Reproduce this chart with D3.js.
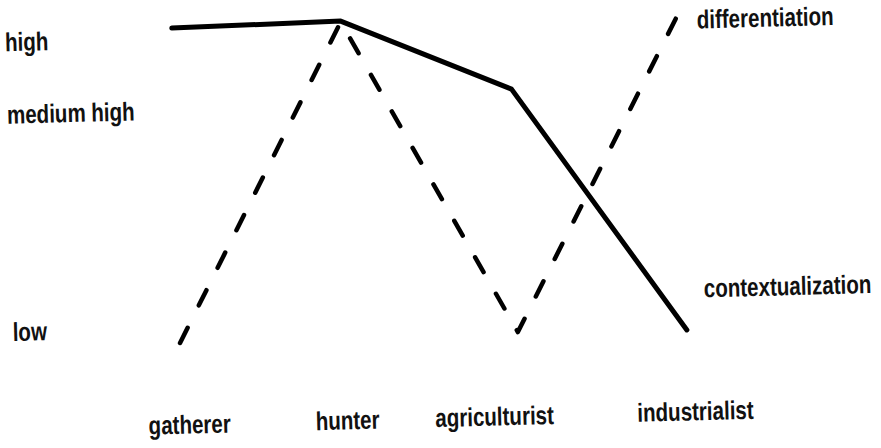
<!DOCTYPE html>
<html>
<head>
<meta charset="utf-8">
<script src="https://cdn.jsdelivr.net/npm/d3@7"></script>
<style>
  body { margin: 0; background: #fff; }
  text { font-family: "Liberation Sans", Arial, sans-serif; font-size: 26px; font-weight: bold; fill: #111; }
</style>
</head>
<body>
<div id="chart"></div>
<script>
// stages along the bottom
var stages = ["gatherer", "hunter", "agriculturist", "industrialist"];
// level names on the left and where they sit on the scale
var levelLabels = ["low", "medium high", "high"];
var levelValues = [0, 7.5, 10];
// the two series, one value per stage
var contextualization = [10.34, 10.43, 7.93, -0.53];
var differentiation = [-0.52, 10.40, -0.45, 10.40];

var width = 881, height = 448,
  squeeze = 0.79; // the lettering is a narrow face

var svg = d3.select("#chart").append("svg")
  .attr("width", width).attr("height", height)
  .attr("viewBox", [0, 0, width, height]);

// the scanned page is slightly tilted
var g = svg.append("g").attr("transform", "rotate(-1.5, 440, 224)");

var x = d3.scalePoint().domain(stages).range([177, 684]),
  y = d3.scaleLinear().domain([0, 10]).range([321, 31]);

var line = d3.line()
  .x(function(d, i){ return x(stages[i]) })
  .y(function(d){ return y(d) });

var series = [
  {name: "contextualization", values: contextualization, dash: null, dy: -41},
  {name: "differentiation", values: differentiation, dash: "17,25", dy: 7}
];

g.selectAll("path.series")
  .data(series)
  .enter().append("path")
  .attr("class", "series")
  .attr("d", function(d){ return line(d.values) })
  .attr("fill", "none")
  .attr("stroke", "#000")
  .attr("stroke-width", function(d){ return d.dash ? 4.5 : 5 })
  .attr("stroke-linecap", "round")
  .attr("stroke-linejoin", "round")
  .attr("stroke-dasharray", function(d){ return d.dash });

function place(px, py) {
  return `translate(${px},${py}) scale(${squeeze},1)`
}

// series names at the right end
g.selectAll("text.series-name")
  .data(series)
  .enter().append("text")
  .attr("class", "series-name")
  .attr("transform", function(d){
    return place(x(stages[stages.length - 1]) + 18, y(d.values[d.values.length - 1]) + d.dy)
  })
  .attr("dominant-baseline", "central")
  .text(function(d){ return d.name });

// level labels on the left
g.selectAll("text.level")
  .data(levelLabels)
  .enter().append("text")
  .attr("class", "level")
  .attr("transform", function(d, i){ return place(10, y(levelValues[i])) })
  .attr("dominant-baseline", "central")
  .text(function(d){ return d });

// stage axis, no line or ticks
var nudge = {gatherer: 7, hunter: -4, agriculturist: -26, industrialist: 6};
var axis = g.append("g")
  .attr("transform", "translate(0, 418)")
  .call(d3.axisBottom(x).tickSize(0).tickPadding(0));
axis.select(".domain").remove();
axis.selectAll("text")
  .attr("font-family", null).attr("font-size", null)
  .attr("fill", null)
  .attr("y", null).attr("dy", null)
  .attr("dominant-baseline", "central")
  .attr("transform", function(d){ return place(nudge[d], 0) });
</script>
</body>
</html>
